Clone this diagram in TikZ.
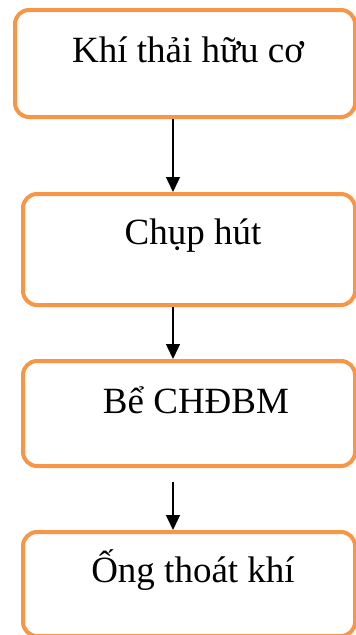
\documentclass[tikz,border=0pt]{standalone}
\usepackage{fontspec}
\setmainfont{Liberation Serif}
\usetikzlibrary{arrows.meta}
\definecolor{boxorange}{HTML}{F79646}
\begin{document}
\begin{tikzpicture}[x=1pt,y=-1pt,
  flowbox/.style={draw=boxorange, line width=4pt, rounded corners=14pt, rectangle, inner sep=0pt},
  flowtext/.style={anchor=base, inner sep=0pt, font=\fontsize{37}{44}\selectfont},
  arr/.style={line width=1.4pt, -{Triangle[width=14pt,length=15pt]}}]
\useasboundingbox (0,0) rectangle (356,635);
\clip (0,0) rectangle (356,635);
\node[flowbox, minimum width=340pt, minimum height=107pt] (b1) at (185,63.5) {};
\node[flowbox, minimum width=332pt, minimum height=111pt] (b2) at (189,249.5) {};
\node[flowbox, minimum width=332pt, minimum height=105pt] (b3) at (189,413.5) {};
\node[flowbox, minimum width=332pt, minimum height=104pt] (b4) at (189,584) {};
\node[flowtext] (t1) at (188,62) {Khí thải hữu cơ};
\node[flowtext] (t2) at (193,244) {Chụp hút};
\node[flowtext] (t3) at (196,413) {Bể CHĐBM};
\node[flowtext] (t4) at (193,582) {Ống thoát khí};
\draw[arr] ([xshift=-12pt]b1.south) -- ([xshift=-16pt]b2.north);
\draw[arr] ([xshift=-16pt]b2.south) -- ([xshift=-16pt]b3.north);
\draw[arr] ([xshift=-16pt,yshift=-14pt]b3.south) -- ([xshift=-16pt]b4.north);
\end{tikzpicture}
\end{document}
